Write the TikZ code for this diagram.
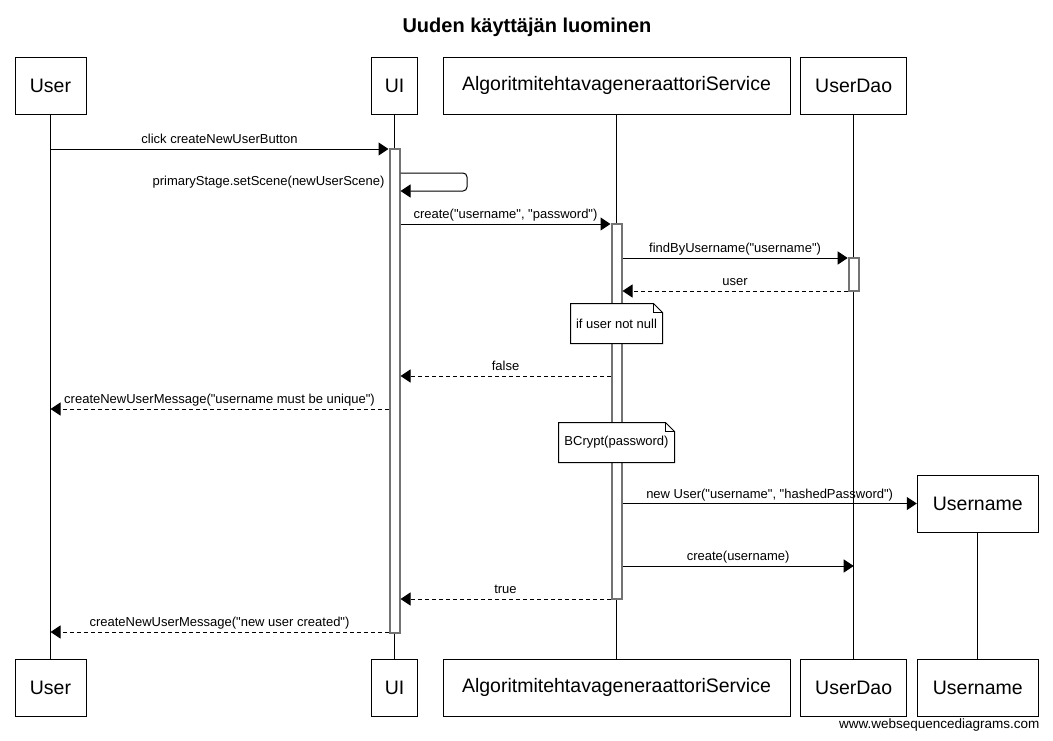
\documentclass[tikz,border=0pt]{standalone}
\usepackage{fontspec}
\setmainfont{Liberation Sans}[Ligatures=TeXOff]
\usepackage{tikz}
\usetikzlibrary{arrows.meta}

\newcommand{\msgfont}{\fontsize{13}{15}\selectfont}
\newcommand{\boxfont}{\fontsize{19.5}{23}\selectfont}
\newcommand{\dogear}[1]{%
  \draw (#1.north west) -- ([xshift=-9pt]#1.north east) -- ([yshift=-9pt]#1.north east) -- (#1.south east) -- (#1.south west) -- cycle;
  \draw ([xshift=-9pt]#1.north east) |- ([yshift=-9pt]#1.north east);}

\begin{document}
\begin{tikzpicture}[x=1pt, y=-1pt, line width=1pt, >={Triangle[length=10pt,width=13pt]},
  actor/.style={draw, fill=white, minimum height=57pt, inner sep=0pt, font=\boxfont},
  act/.style={draw=black!55, fill=white, line width=2pt, minimum width=10pt, inner sep=0pt},
  msg/.style={->},
  ret/.style={->, dash pattern=on 4pt off 3pt},
  lbl/.style={midway, anchor=base, yshift=5.5pt, font=\msgfont, inner sep=0pt},
  notebox/.style={fill=white, minimum height=39pt, inner sep=0pt, font=\msgfont}]
  \useasboundingbox (0,0) rectangle (1053,740);
  %--- Titre
    \node[font=\bfseries\fontsize{20}{24}\selectfont, anchor=base] (T) at (527,32) {Uuden käyttäjän luominen};
  %--- Acteurs
    \node[actor, minimum width=71pt] (US) at (50.5,85.5) {User};
    \node[actor, minimum width=46pt] (UI) at (394.5,85.5) {UI};
    \node[actor, minimum width=347pt] (AS) at (616.5,85.5) {AlgoritmitehtavageneraattoriService};
    \node[actor, minimum width=106pt] (UD) at (853.7,85.5) {UserDao};
    \node[actor, minimum width=121pt] (UN) at (977.8,503.5) {Username};
    \node[actor, minimum width=71pt] (USb) at (50.5,687.5) {User};
    \node[actor, minimum width=46pt] (UIb) at (394.5,687.5) {UI};
    \node[actor, minimum width=347pt] (ASb) at (616.5,687.5) {AlgoritmitehtavageneraattoriService};
    \node[actor, minimum width=106pt] (UDb) at (853.7,687.5) {UserDao};
    \node[actor, minimum width=121pt] (UNb) at (977.8,687.5) {Username};
  %--- Lignes de vie
    \draw (US) -- (USb);
    \draw (UI) -- (UIb);
    \draw (AS) -- (ASb);
    \draw (UD) -- (UDb);
    \draw (UN) -- (UNb);
  %--- Activations
    \node[act, minimum height=484pt] (aUI) at (394.5,391) {};
    \node[act, minimum height=375pt] (aAS) at (616.5,411.5) {};
    \node[act, minimum height=33pt] (aUD) at (853.7,274.5) {};
  %--- Lignes des messages
    \foreach \n/\y in {1/149,2/173,3/224,4/258,5/291,6/376,7/409,9/566,10/599,11/632}
      \coordinate (r\n) at (0,\y);
    \coordinate (selfR) at (467,191);
  %--- Messages
    \draw[msg] (US |- r1) -- node[lbl] {click createNewUserButton} (aUI.west |- r1);
    \draw[msg, rounded corners=4pt] (aUI.east |- r2) -| (selfR) -- (aUI.east |- selfR);
    \node[font=\msgfont, anchor=base east, inner sep=0pt] (SL) at (385,185) {primaryStage.setScene(newUserScene)};
    \draw[msg] (aUI.east |- r3) -- node[lbl] {create("username", "password")} (aAS.west |- r3);
    \draw[msg] (aAS.east |- r4) -- node[lbl] {findByUsername("username")} (aUD.west |- r4);
    \draw[ret] (aUD.west |- r5) -- node[lbl] {user} (aAS.east |- r5);
    \draw[ret] (aAS.west |- r6) -- node[lbl] {false} (aUI.east |- r6);
    \draw[ret] (aUI.west |- r7) -- node[lbl] {createNewUserMessage("username must be unique")} (US |- r7);
    \draw[msg] (aAS.east |- UN.west) -- node[lbl] {new User("username", "hashedPassword")} (UN.west);
    \draw[msg] (aAS.east |- r9) -- node[lbl] {create(username)} (UD |- r9);
    \draw[ret] (aAS.west |- r10) -- node[lbl] {true} (aUI.east |- r10);
    \draw[ret] (aUI.west |- r11) -- node[lbl] {createNewUserMessage("new user created")} (US |- r11);
  %--- Notes
    \node[notebox, minimum width=91pt] (N1) at (616.5,323.5) {if user not null};
    \dogear{N1}
    \node[notebox, minimum width=115pt] (N2) at (616.5,442.5) {BCrypt(password)};
    \dogear{N2}
  %---
    \node[font=\fontsize{13.5}{16}\selectfont, anchor=base east, inner sep=0pt] (W) at (1040,728) {www.websequencediagrams.com};
\end{tikzpicture}
\end{document}
